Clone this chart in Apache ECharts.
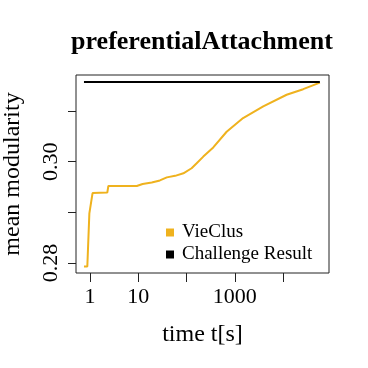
<!DOCTYPE html>
<html>
<head>
<meta charset="utf-8">
<script src="https://cdn.jsdelivr.net/npm/echarts@6/dist/echarts.min.js"></script>
<style>
    html, body { margin: 0; padding: 0; background: #fff; }
    #chart { width: 368px; height: 368px; }
</style>
</head>
<body>
<div id="chart"></div>
<script>
// time (s) and mean modularity
var vieClusTime = [0.75, 0.88, 0.97, 1.13, 2.28, 2.4, 9.3, 12.3, 19, 28, 39, 58, 86, 127, 162, 222, 357, 675, 1480, 3870, 11800, 26000, 57600];
var vieClusValue = [0.2793, 0.2793, 0.2898, 0.2938, 0.2939, 0.2952, 0.2952, 0.2956, 0.2959, 0.2963, 0.2969, 0.2972, 0.2977, 0.2987, 0.2997, 0.3010, 0.3028, 0.3059, 0.3086, 0.3109, 0.3132, 0.3143, 0.3156];
var challengeTime = [0.75, 57600];
var challengeValue = [0.3157, 0.3157];
var xTicks = [1, 10, 100, 1000, 10000];
var xLabels = [1, 10, 1000];
var yTicks = [0.28, 0.29, 0.30, 0.31];
var yLabels = [0.28, 0.30];

var font = 'Liberation Serif';

function pairs (xs, ys) {
    return xs.map(function (x, i) { return [x, ys[i]]; });
}

var myChart = echarts.init(document.getElementById('chart'));
myChart.setOption({
    animation: false,
    title: {
        text: 'preferentialAttachment',
        left: 197,
        top: 24,
        textAlign: 'center',
        textStyle: {
            fontFamily: font,
            fontWeight: 'bold',
            fontSize: 26,
            color: '#000'
        }
    },
    grid: {
        left: 76,
        right: 39,
        top: 75,
        bottom: 95,
        outerBoundsMode: 'none',
        containLabel: false,
        show: true,
        borderColor: '#222',
        borderWidth: 1
    },
    legend: {
        orient: 'vertical',
        left: 161,
        top: 218,
        icon: 'rect',
        itemWidth: 8,
        itemHeight: 8,
        itemGap: 3,
        textStyle: {
            fontFamily: font,
            fontSize: 19,
            lineHeight: 19,
            padding: [0, 0, 0, 3],
            color: '#000'
        },
        data: ['VieClus', 'Challenge Result']
    },
    xAxis: {
        type: 'log',
        logBase: 10,
        min: 0.513,
        max: 89000,
        name: 'time t[s]',
        nameLocation: 'middle',
        nameGap: 50,
        nameTextStyle: {
            fontFamily: font,
            fontSize: 24,
            color: '#000'
        },
        axisLine: { show: false },
        axisTick: {
            show: true,
            length: 9,
            customValues: xTicks,
            lineStyle: { color: '#222' }
        },
        axisLabel: {
            customValues: xLabels,
            margin: 13,
            fontFamily: font,
            fontSize: 22,
            color: '#000',
            formatter: function (v) { return String(v); }
        },
        splitLine: { show: false }
    },
    yAxis: {
        type: 'value',
        min: 0.27803,
        max: 0.3171,
        name: 'mean modularity',
        nameLocation: 'middle',
        nameGap: 51,
        nameTextStyle: {
            fontFamily: font,
            fontSize: 24,
            color: '#000'
        },
        axisLine: { show: false },
        axisTick: {
            show: true,
            length: 8,
            customValues: yTicks,
            lineStyle: { color: '#222' }
        },
        axisLabel: {
            customValues: yLabels,
            rotate: 90,
            margin: 14,
            fontFamily: font,
            fontSize: 22,
            color: '#000',
            formatter: function (v) { return v.toFixed(2); }
        },
        splitLine: { show: false }
    },
    series: [
        {
            name: 'VieClus',
            type: 'line',
            data: pairs(vieClusTime, vieClusValue),
            showSymbol: false,
            itemStyle: { color: '#EFB21E' },
            lineStyle: { color: '#EFB21E', width: 2 }
        },
        {
            name: 'Challenge Result',
            type: 'line',
            data: pairs(challengeTime, challengeValue),
            showSymbol: false,
            itemStyle: { color: '#000' },
            lineStyle: { color: '#000', width: 2 }
        }
    ]
});
</script>
</body>
</html>
